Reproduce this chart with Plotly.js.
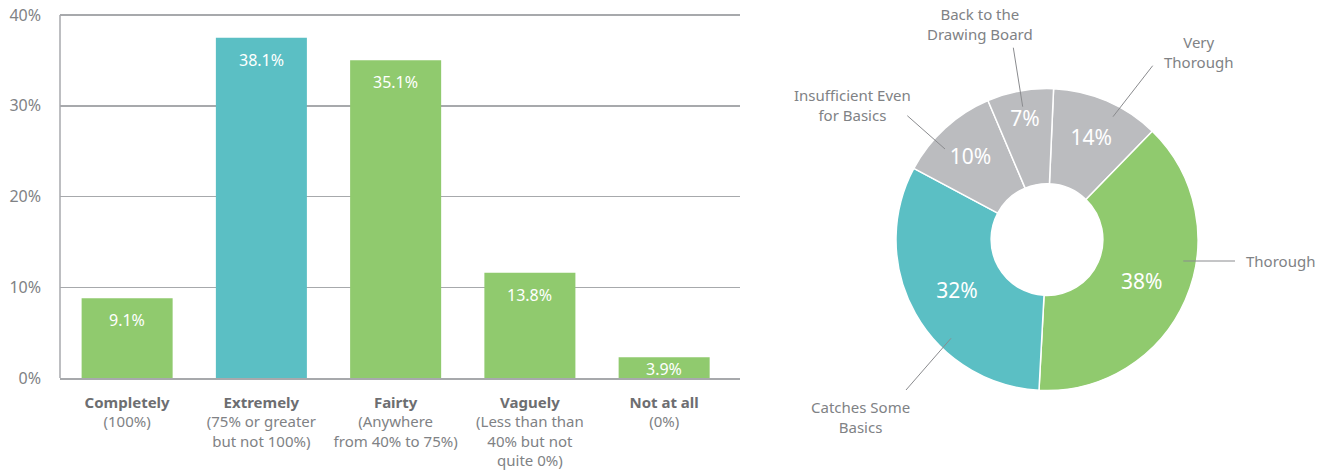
<!DOCTYPE html>
<html>
<head>
<meta charset="utf-8">
<script src="https://cdn.plot.ly/plotly-3.0.1.min.js"></script>
<style>html,body{margin:0;padding:0;background:#fff;}#chart{width:1330px;height:470px;}</style>
</head>
<body>
<div id="chart"></div>
<script>
// ---------- data ----------
const categories = ['Completely', 'Extremely', 'Fairty', 'Vaguely', 'Not at all'];
const categoryNotes = ['(100%)', '(75% or greater<br>but not 100%)', '(Anywhere<br>from 40% to 75%)', '(Less than than<br>40% but not<br>quite 0%)', '(0%)'];
const barHeights = [8.8, 37.5, 35.0, 11.6, 2.3];
const barLabels = ['9.1%', '38.1%', '35.1%', '13.8%', '3.9%'];
const yTickValues = [0, 10, 20, 30, 40];
const yTickLabels = ['0%', '10%', '20%', '30%', '40%'];

const sliceNames = ['Very<br>Thorough', 'Thorough', 'Catches Some<br>Basics', 'Insufficient Even<br>for Basics', 'Back to the<br>Drawing Board'];
const sliceShares = [11.6, 38.6, 32.0, 10.8, 7.1];
const sliceLabels = ['14%', '38%', '32%', '10%', '7%'];

// ---------- style ----------
const W = 1330, H = 470;
const GREEN = '#90ca6e', TEAL = '#5bbfc4', GREY = '#bbbcbf';
const TEXT = '#808285', DARK = '#6d6e71', GRID = '#a7a9ac';
const FONT = 'Noto Sans, sans-serif';
const px = x => x / W;
const py = y => 1 - y / H;

const barColors = categories.map((c, i) => i === 1 ? TEAL : GREEN);
const sliceColors = [GREY, GREEN, TEAL, GREY, GREY];

const yTop = 15, yBase = 378, yMax = 40, yPad = 0.25;
const pxPerUnit = (yBase - yTop) / yMax;

const barTrace = {
  type: 'bar', x: categories, y: barHeights,
  marker: {color: barColors, line: {width: 0}},
  width: 0.678, hoverinfo: 'skip',
  xaxis: 'x', yaxis: 'y'
};

const pieTrace = {
  type: 'pie', labels: sliceNames, values: sliceShares,
  text: sliceLabels, textinfo: 'text', textposition: 'inside',
  insidetextorientation: 'horizontal',
  textfont: {family: FONT, size: 21, color: '#ffffff'},
  sort: false, direction: 'clockwise', rotation: 2.5, hole: 0.37,
  marker: {colors: sliceColors, line: {color: '#ffffff', width: 1.5}},
  domain: {x: [px(896), px(1198)], y: [py(390.5), py(88.5)]},
  showlegend: false, hoverinfo: 'skip'
};

const annotations = [];
// bar value labels
barHeights.forEach((v, i) => {
  const hPx = v * pxPerUnit;
  annotations.push({
    x: categories[i], y: v, xref: 'x', yref: 'y',
    text: barLabels[i], showarrow: false,
    yanchor: 'middle', yshift: -Math.min(22, hPx / 2 + 1.5),
    font: {family: FONT, size: 16, color: '#ffffff'}
  });
});
// pie outside labels (layout positions)
const pieLabelPos = [
  {x: 1198, y: 52, xa: 'center'},
  {x: 1244, y: 261, xa: 'left'},
  {x: 860, y: 417, xa: 'center'},
  {x: 853, y: 105.5, xa: 'center'},
  {x: 980, y: 24.4, xa: 'center'}
];
sliceNames.forEach((n, i) => {
  const p = pieLabelPos[i];
  annotations.push({
    x: px(p.x), y: py(p.y), xref: 'paper', yref: 'paper',
    text: n, showarrow: false, xanchor: p.xa, yanchor: 'middle', align: 'center',
    font: {family: FONT, size: 15, color: TEXT}
  });
});
const leaders = [
  [1113, 116.7, 1152.7, 65.7],
  [1183.3, 261, 1235, 261],
  [951, 338.3, 906, 390],
  [945, 149, 907.3, 115.7],
  [1022.7, 106.7, 1013.3, 47.7]
];
const shapes = leaders.map(l => ({
  type: 'line', xref: 'paper', yref: 'paper',
  x0: px(l[0]), y0: py(l[1]), x1: px(l[2]), y1: py(l[3]),
  line: {color: '#8a8b8e', width: 1}
}));

const tickText = categories.map((c, i) =>
  `<span style="color:${DARK}"><b>${c}</b></span><br>${categoryNotes[i]}`);

const layout = {
  width: W, height: H,
  margin: {l: 0, r: 0, t: 0, b: 0},
  paper_bgcolor: '#ffffff', plot_bgcolor: '#ffffff',
  showlegend: false,
  font: {family: FONT, color: TEXT},
  xaxis: {
    domain: [px(60), px(740)],
    range: [-0.5, 4.565],
    tickmode: 'array', tickvals: categories, ticktext: tickText,
    tickfont: {family: FONT, size: 15, color: TEXT},
    showline: true, linecolor: GRID, linewidth: 1.5,
    showgrid: false, zeroline: false, ticks: '',
    ticklabelstandoff: 10, fixedrange: true
  },
  yaxis: {
    domain: [py(yBase), py(yTop - yPad * pxPerUnit)],
    range: [0, yMax + yPad],
    tickmode: 'array', tickvals: yTickValues, ticktext: yTickLabels,
    tickfont: {family: FONT, size: 16, color: TEXT},
    showgrid: true, gridcolor: GRID, gridwidth: 1.5,
    showline: false,
    zeroline: false, ticks: '', ticklabelstandoff: 18, fixedrange: true
  },
  annotations: annotations,
  shapes: shapes.concat([{
    type: 'line', xref: 'paper', yref: 'paper',
    x0: px(60), x1: px(60), y0: py(yBase), y1: py(yTop),
    line: {color: GRID, width: 1.5}
  }])
};

Plotly.newPlot('chart', [barTrace, pieTrace], layout, {displayModeBar: false, staticPlot: true});
</script>
</body>
</html>
